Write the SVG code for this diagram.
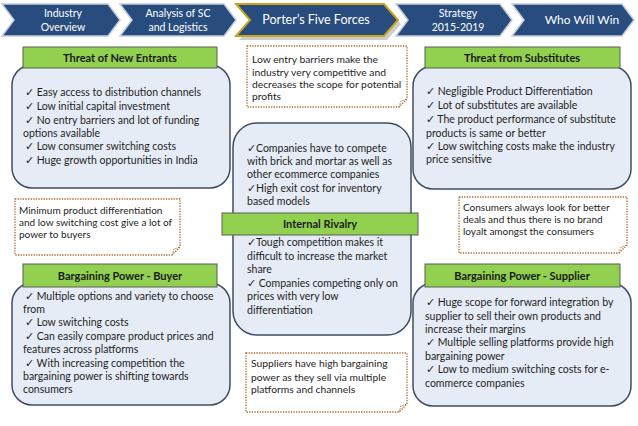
<svg xmlns="http://www.w3.org/2000/svg" width="638" height="426" viewBox="0 0 638 426">
<style>
text{font-family:Lato,"Liberation Sans",sans-serif;fill:#1e1e1e;font-size:10.5px}
.chev{fill:#284c7e;stroke:#c3ccd8;stroke-width:1.5}
.ct{fill:#ffffff;font-size:10.5px;text-anchor:middle}
.box{fill:#e6ecf5;stroke:#3e4d63;stroke-width:1.5}
.hdr{fill:#92d050;stroke:#5a5f58;stroke-width:1}
.ht{font-weight:bold;font-size:11px;text-anchor:middle;fill:#1a1a1a}
.note{fill:#ffffff;stroke:#b0652a;stroke-width:1.3;stroke-dasharray:1.3 1.3}
.fold{fill:none;stroke:#b0652a;stroke-width:1;stroke-dasharray:1.3 1.3}
.nt{font-size:10px}
.nb{font-size:10.3px}
</style>
<rect width="638" height="426" fill="#ffffff"/>

<g id="nav-industry">
<polygon class="chev" points="2,4 108,4 120,20 108,36 2,36 14,20"/>
<text class="ct" x="63" y="17">Industry</text>
<text class="ct" x="63" y="31">Overview</text>
</g>
<g id="nav-analysis">
<polygon class="chev" points="120,4 224,4 236,20 224,36 120,36 132,20"/>
<text class="ct" x="178" y="17">Analysis of SC</text>
<text class="ct" x="178" y="31">and Logistics</text>
</g>
<g id="nav-porter">
<polygon points="239,8 387,8 401,24 387,40 239,40 253,24" fill="#9a9a9a" opacity="0.5"/>
<polygon points="236,4 384,4 398,20 384,36 236,36 250,20" fill="#284c7e" stroke="#c9a41a" stroke-width="2"/>
<text class="ct" x="316" y="24" style="font-size:12.5px">Porter’s Five Forces</text>
</g>
<g id="nav-strategy">
<polygon class="chev" points="396,4 500,4 512,20 500,36 396,36 408,20"/>
<text class="ct" x="458" y="17">Strategy</text>
<text class="ct" x="458" y="31">2015-2019</text>
</g>
<g id="nav-win">
<polygon class="chev" points="512,4 622,4 634,20 622,36 512,36 524,20"/>
<text class="ct" x="582" y="24" style="font-size:12px">Who Will Win</text>
</g>

<g id="new-entrants">
<rect class="box" x="12" y="65" width="218" height="123" rx="20"/>
<rect class="hdr" x="23" y="47" width="194" height="21"/>
<text class="ht" x="120" y="61.5">Threat of New Entrants</text>
<text x="25" y="96">✓ Easy access to distribution channels</text>
<text x="25" y="110">✓ Low initial capital investment</text>
<text x="25" y="123.5">✓ No entry barriers and lot of funding</text>
<text x="23" y="137">options available</text>
<text x="25" y="150">✓ Low consumer switching costs</text>
<text x="25" y="163.5">✓ Huge growth opportunities in India</text>
</g>

<g id="substitutes">
<rect class="box" x="413" y="66" width="218" height="123" rx="20"/>
<rect class="hdr" x="425" y="47" width="195" height="21"/>
<text class="ht" x="522" y="61.5">Threat from Substitutes</text>
<text x="426" y="95">✓ Negligible Product Differentiation</text>
<text x="426" y="109">✓ Lot of substitutes are available</text>
<text x="426" y="122.5">✓ The product performance of substitute</text>
<text x="426" y="136.5">products  is same or better</text>
<text x="426" y="150">✓ Low switching costs make the industry</text>
<text x="426" y="163">price sensitive</text>
</g>

<g id="note-entry">
<path class="note" d="M247,46 H407 V99 L399,107 H247 Z"/>
<path class="fold" d="M399,107 L401,101 L407,99"/>
<text class="nb" x="252" y="63">Low entry barriers make the</text>
<text class="nb" x="252" y="76">industry very competitive and</text>
<text class="nb" x="252" y="88">decreases the scope for potential</text>
<text class="nb" x="252" y="100">profits</text>
</g>

<g id="internal-rivalry">
<rect class="box" x="233" y="123" width="178" height="212" rx="24"/>
<text x="247" y="152">✓Companies have to compete</text>
<text x="247" y="165">with brick and mortar as well as</text>
<text x="247" y="178">other ecommerce companies</text>
<text x="247" y="191.5">✓High exit cost for inventory</text>
<text x="247" y="205">based models</text>
<rect class="hdr" x="222" y="213" width="196" height="22"/>
<text class="ht" x="320" y="228">Internal Rivalry</text>
<text x="247" y="246">✓Tough competition makes it</text>
<text x="247" y="260">difficult to increase the market</text>
<text x="247" y="273">share</text>
<text x="247" y="287">✓ Companies competing only on</text>
<text x="247" y="300">prices with very low</text>
<text x="247" y="313.5">differentiation</text>
</g>

<g id="note-buyers">
<path class="note" d="M15,199 H180 V247 L172,255 H15 Z"/>
<path class="fold" d="M172,255 L174,249 L180,247"/>
<text class="nt" x="19" y="214">Minimum product differentiation</text>
<text class="nt" x="19" y="226">and low switching cost give a lot of</text>
<text class="nt" x="19" y="238">power to buyers</text>
</g>

<g id="note-consumers">
<path class="note" d="M459,197 H627 V245 L619,253 H459 Z"/>
<path class="fold" d="M619,253 L621,247 L627,245"/>
<text class="nt" x="463" y="211">Consumers always look for better</text>
<text class="nt" x="463" y="223">deals and thus there is no  brand</text>
<text class="nt" x="463" y="235">loyalt amongst the consumers</text>
</g>

<g id="buyer-power">
<rect class="box" x="12" y="283" width="218" height="122" rx="20"/>
<rect class="hdr" x="23" y="264" width="194" height="23"/>
<text class="ht" x="120" y="279.5">Bargaining Power - Buyer</text>
<text x="25" y="300">✓ Multiple options and variety to choose</text>
<text x="23" y="313">from</text>
<text x="25" y="326">✓ Low switching costs</text>
<text x="25" y="340">✓ Can easily compare product prices and</text>
<text x="23" y="353">features across platforms</text>
<text x="25" y="366.5">✓ With increasing competition the</text>
<text x="23" y="379.5">bargaining power is shifting towards</text>
<text x="23" y="393">consumers</text>
</g>

<g id="supplier-power">
<rect class="box" x="413" y="283" width="218" height="123" rx="20"/>
<rect class="hdr" x="425" y="264" width="195" height="23"/>
<text class="ht" x="522" y="279.5">Bargaining Power - Supplier</text>
<text x="426" y="306">✓ Huge scope for forward integration by</text>
<text x="425" y="319.5">supplier to sell their own products and</text>
<text x="425" y="333">increase their margins</text>
<text x="426" y="346">✓ Multiple selling platforms provide high</text>
<text x="425" y="360">bargaining power</text>
<text x="426" y="373">✓  Low to medium switching costs for e-</text>
<text x="425" y="386.5">commerce companies</text>
</g>

<g id="note-suppliers">
<path class="note" d="M246,353 H407 V404 L399,412 H246 Z"/>
<path class="fold" d="M399,412 L401,406 L407,404"/>
<text class="nb" x="251" y="367">Suppliers have high bargaining</text>
<text class="nb" x="251" y="381">power as they sell via multiple</text>
<text class="nb" x="251" y="393">platforms and channels</text>
</g>
</svg>
